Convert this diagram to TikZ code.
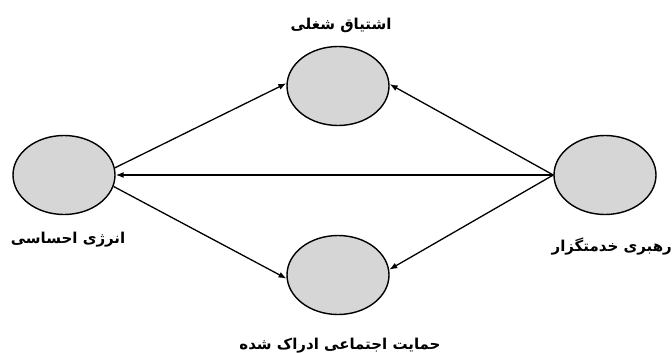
\documentclass[tikz,border=0pt]{standalone}
\usepackage{fontspec}
\usetikzlibrary{shapes.geometric,arrows.meta}
\newfontfamily\arabicfont[Script=Arabic]{DejaVu Sans}
\TeXXeTstate=1
\definecolor{nodegray}{HTML}{D6D6D6}
\tikzset{
  construct/.style={ellipse, draw=black, line width=1.4pt, fill=nodegray,
    minimum width=102pt, minimum height=79pt, inner sep=0pt},
  conn/.style={line width=1.3pt, -{Latex[length=8pt,width=6pt]}},
  lbl/.style={font=\arabicfont\bfseries\fontsize{15}{17}\selectfont, inner sep=0pt}
}
\begin{document}
\begin{tikzpicture}[x=1pt,y=-1pt]
  \useasboundingbox (0,0) rectangle (672,353);
  \node[construct] (L) at (64,175) {};
  \node[construct] (T) at (338,86) {};
  \node[construct] (B) at (338,275) {};
  \node[construct] (R) at (605,175) {};
  \node[lbl] (tl) at (341,25) {\beginR اشتیاق شغلی\endR};
  \node[lbl] (ll) at (68,240) {\beginR انرژی احساسی\endR};
  \node[lbl, anchor=east] (rl) at (672,247) {\beginR رهبری خدمتگزار\endR};
  \node[lbl] (bl) at (340,346) {\beginR حمایت اجتماعی ادراک شده\endR};
  \draw[conn] (L.8) -- (T.177);
  \draw[conn] (R.west) -- (T.2);
  \draw[conn] (R.west) -- (L.east);
  \draw[conn] (L.-13) -- (B.184);
  \draw[conn] (R.west) -- (B.6);
\end{tikzpicture}
\end{document}
